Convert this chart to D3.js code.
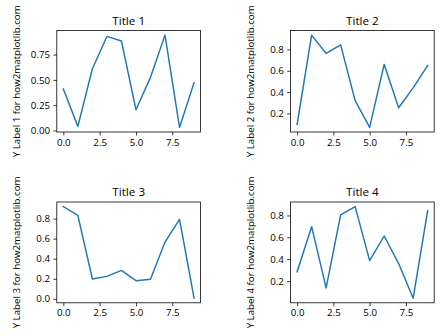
<!DOCTYPE html>
<html><head><meta charset="utf-8">
<script src="https://cdn.jsdelivr.net/npm/d3@7"></script>
<style>
html,body{margin:0;padding:0;background:#fff;}
svg{display:block;}
text{font-family:"Open Sans",sans-serif;fill:#000;}
</style></head>
<body>
<script>
const xValues = [0,1,2,3,4,5,6,7,8,9];
const series1 = [0.41,0.04,0.61,0.93,0.885,0.205,0.525,0.943,0.03,0.473];
const series2 = [0.097,0.934,0.762,0.843,0.32,0.069,0.66,0.253,0.44,0.65];
const series3 = [0.92,0.832,0.198,0.224,0.283,0.181,0.195,0.566,0.793,0.006];
const series4 = [0.285,0.697,0.137,0.805,0.881,0.387,0.612,0.36,0.043,0.845];
const titles = ["Title 1","Title 2","Title 3","Title 4"];
const yLabels = ["Y Label 1 for how2matplotlib.com","Y Label 2 for how2matplotlib.com","Y Label 3 for how2matplotlib.com","Y Label 4 for how2matplotlib.com"];
const xTicks = [0,2.5,5,7.5];
const xTickLabels = ["0.0","2.5","5.0","7.5"];
const yTicks1 = [0,0.25,0.5,0.75];
const yTickLabels1 = ["0.00","0.25","0.50","0.75"];
const yTicks2 = [0.2,0.4,0.6,0.8];
const yTickLabels2 = ["0.2","0.4","0.6","0.8"];
const yTicks3 = [0,0.2,0.4,0.6,0.8];
const yTickLabels3 = ["0.0","0.2","0.4","0.6","0.8"];
const yTicks4 = [0.2,0.4,0.6,0.8];
const yTickLabels4 = ["0.2","0.4","0.6","0.8"];

const W=448,H=336;
const svg=d3.select("body").append("svg").attr("width",W).attr("height",H);

const panels=[
  {data:series1,ticks:yTicks1,labels:yTickLabels1,box:[56.8,200.6,30.5,132],labX:16},
  {data:series2,ticks:yTicks2,labels:yTickLabels2,box:[290.6,434.2,30.5,132],labX:250},
  {data:series3,ticks:yTicks3,labels:yTickLabels3,box:[56.8,200.6,202,302.8],labX:16},
  {data:series4,ticks:yTicks4,labels:yTickLabels4,box:[290.6,434.2,202,302.8],labX:250}
];

panels.forEach((p,i)=>{
  const [l,r,t,b]=p.box;
  const xmin=d3.min(xValues),xmax=d3.max(xValues);
  const xm=(xmax-xmin)*0.05;
  const ymin=d3.min(p.data),ymax=d3.max(p.data);
  const ym=(ymax-ymin)*0.05;
  const x=d3.scaleLinear().domain([xmin-xm,xmax+xm]).range([l,r]);
  const y=d3.scaleLinear().domain([ymin-ym,ymax+ym]).range([b,t]);
  const g=svg.append("g");

  const line=d3.line().x((d,j)=>x(xValues[j])).y(d=>y(d));
  g.append("path").datum(p.data).attr("d",line)
    .attr("fill","none").attr("stroke","#1f77b4").attr("stroke-width",1.46)
    .attr("stroke-linejoin","round").attr("stroke-linecap","square");

  const xa=d3.axisBottom(x).tickValues(xTicks).tickFormat((d,j)=>xTickLabels[j]).tickSize(3.4).tickPadding(3.4);
  const xg=g.append("g").attr("transform",`translate(0,${b})`).call(xa);
  const ya=d3.axisLeft(y).tickValues(p.ticks).tickFormat((d,j)=>p.labels[j]).tickSize(3.4).tickPadding(3.4);
  const yg=g.append("g").attr("transform",`translate(${l},0)`).call(ya);
  [xg,yg].forEach(a=>{
    a.select(".domain").remove();
    a.selectAll(".tick line").attr("stroke","#000").attr("stroke-width",0.78);
    a.selectAll(".tick text").attr("font-family","'Open Sans',sans-serif").attr("font-size",9.72).attr("fill","#000");
  });

  g.append("rect").attr("x",l).attr("y",t).attr("width",r-l).attr("height",b-t)
    .attr("fill","none").attr("stroke","#000").attr("stroke-width",0.78);

  g.append("text").attr("x",(l+r)/2).attr("y",t-5.8).attr("text-anchor","middle")
    .attr("font-size",11.67).text(titles[i]);

  g.append("text").attr("transform",`translate(${p.labX},${(t+b)/2}) rotate(-90)`)
    .attr("text-anchor","middle").attr("dominant-baseline","central")
    .attr("font-size",9.72).text(yLabels[i]);
});
</script>
</body></html>
